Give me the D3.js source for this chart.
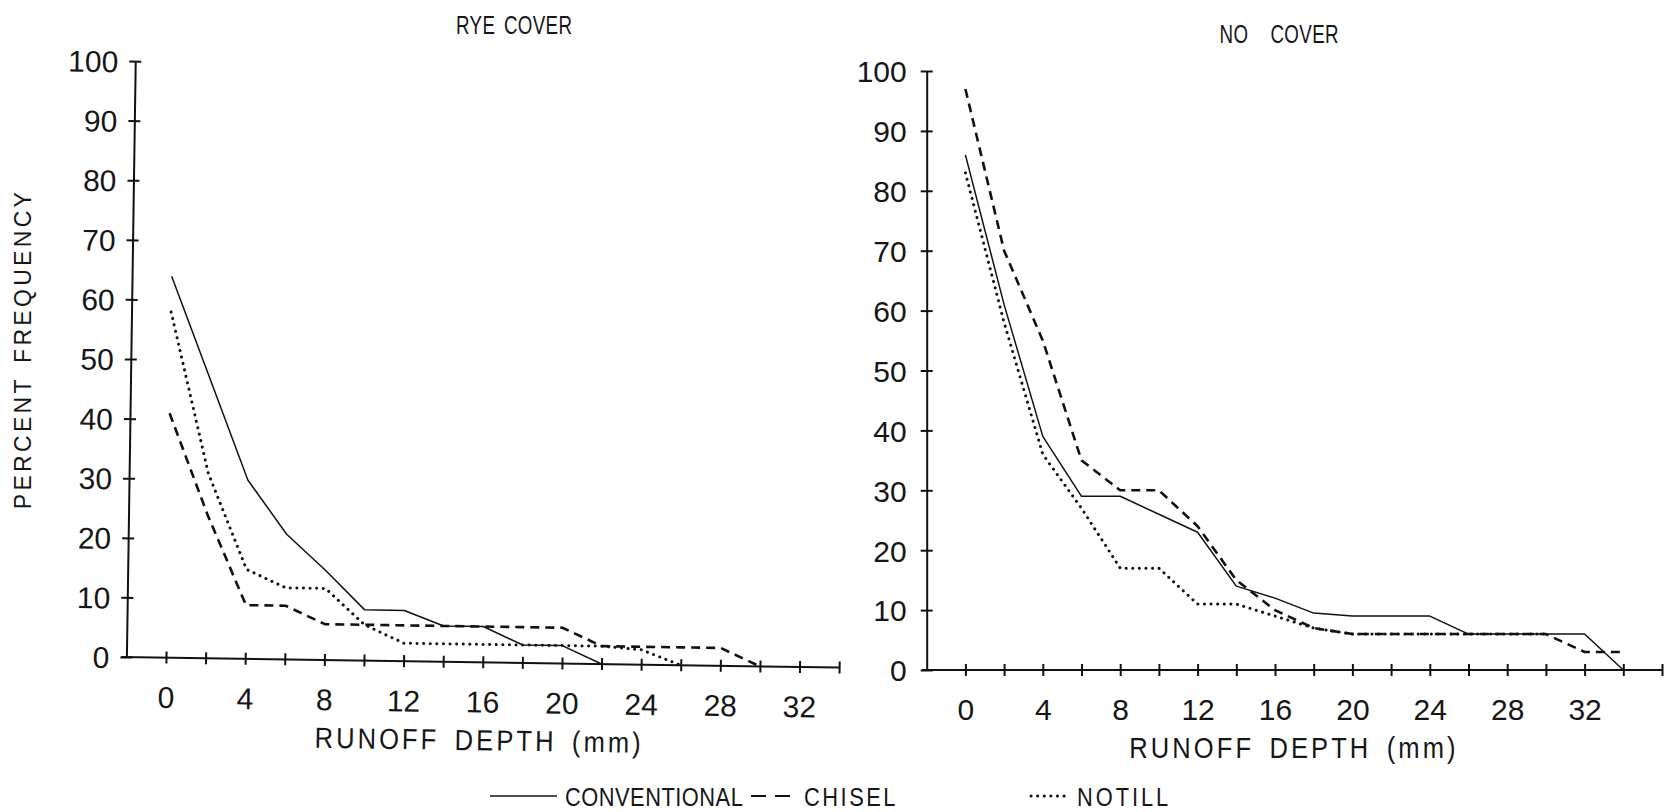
<!DOCTYPE html>
<html>
<head>
<meta charset="utf-8">
<script src="https://cdn.jsdelivr.net/npm/d3@7"></script>
<style>
  body { margin: 0; background: #fff; }
  text { font-family: "Liberation Sans", Arial, sans-serif; fill: #161616; }
</style>
</head>
<body>
<svg id="chart" width="1664" height="812"></svg>
<script>
// runoff depth classes (mm), one value every 2 mm
const depthMm = [0, 2, 4, 6, 8, 10, 12, 14, 16, 18, 20, 22, 24, 26, 28, 30, 32, 34, 36];
const depthLabels = [0, 4, 8, 12, 16, 20, 24, 28, 32];
const freqTicks = [0, 10, 20, 30, 40, 50, 60, 70, 80, 90, 100];

// percent frequency (starting at 0 mm)
const ryeConventional = [64, 47, 30, 21, 15, 8.5, 8.5, 6, 6, 3, 3, 0];
const ryeChisel = [41, 24, 9, 9, 6, 6, 6, 6, 6, 6, 6, 3, 3, 3, 3, 0];
const ryeNotill = [58, 31, 15, 12, 12, 6, 3, 3, 3, 3, 3, 3, 2.5, 0];

const noConventional = [86, 61, 39, 29, 29, 26, 23, 14, 12, 9.5, 9, 9, 9, 6, 6, 6, 6, 0];
const noChisel = [97, 70, 55, 35, 30, 30, 24, 15, 10, 7, 6, 6, 6, 6, 6, 6, 3, 3];
const noNotill = [83, 58, 36, 27, 17, 17, 11, 11, 9, 7, 6, 6, 6, 6, 6, 6];

const tillages = ['CONVENTIONAL', 'CHISEL', 'NOTILL'];

const lineStyle = {
  CONVENTIONAL: { width: 1.5, dash: null, cap: 'butt' },
  CHISEL: { width: 2.6, dash: '9,6', cap: 'butt' },
  NOTILL: { width: 3, dash: '0.1,6.5', cap: 'round' }
};

const svg = d3.select('#chart');

// plotter lettering is narrower than Arial: squeeze it sideways
function plotterText(parent, x, y, str, size, squeeze, ls, ws, anchor) {
  return parent.append('text')
    .attr('transform', 'translate(' + x + ',' + y + ') scale(' + squeeze + ',1)')
    .attr('text-anchor', anchor || 'middle')
    .attr('dx', anchor ? 0 : ls / 2)
    .attr('font-size', size)
    .attr('letter-spacing', ls)
    .attr('word-spacing', ws)
    .text(str);
}

function drawPanel(opts) {
  let outer = svg.append('g');
  let g = outer.append('g')
    .attr('transform', 'rotate(' + opts.tilt + ',' + opts.x0 + ',' + opts.y0 + ')');

  let x = d3.scaleLinear()
    .domain([-2, opts.xMax])
    .range([opts.x0, opts.x0 + (opts.xMax + 2) * opts.unit]);
  let y = d3.scaleLinear()
    .domain([0, 100])
    .range([opts.y0, opts.yTop]);

  // x axis with crossing ticks
  let xa = g.append('g')
    .attr('transform', 'translate(0,' + opts.y0 + ')')
    .call(d3.axisBottom(x)
      .tickValues(depthMm.filter(function (d) { return d <= opts.xMax; }))
      .tickSizeInner(6)
      .tickSizeOuter(0)
      .tickPadding(23)
      .tickFormat(function (d) { return depthLabels.indexOf(d) >= 0 ? d : ''; }));
  xa.select('.domain')
    .attr('d', 'M' + (opts.x0 - 5) + ',0H' + x.range()[1])
    .attr('stroke', '#111').attr('stroke-width', 2);
  xa.selectAll('.tick line').attr('y1', -6).attr('stroke', '#111').attr('stroke-width', 2);
  xa.selectAll('.tick text').attr('font-size', 30).attr('fill', '#161616');

  // y axis
  let ya = g.append('g')
    .attr('transform', 'translate(' + opts.x0 + ',0)')
    .call(d3.axisLeft(y)
      .tickValues(freqTicks)
      .tickSizeInner(6)
      .tickSizeOuter(0)
      .tickPadding(opts.yPad));
  ya.select('.domain').attr('stroke', '#111').attr('stroke-width', 2);
  ya.selectAll('.tick line').attr('x1', 6).attr('stroke', '#111').attr('stroke-width', 2);
  ya.selectAll('.tick text').attr('font-size', 30).attr('dy', '0.36em').attr('fill', '#161616');

  // series
  let line = d3.line()
    .x(function (d, i) { return x(depthMm[i]); })
    .y(function (d) { return y(d); });

  tillages.forEach(function (name, k) {
    let st = lineStyle[name];
    g.append('path')
      .datum(opts.series[k])
      .attr('fill', 'none')
      .attr('stroke', '#111')
      .attr('stroke-width', st.width)
      .attr('stroke-dasharray', st.dash)
      .attr('stroke-linecap', st.cap)
      .attr('stroke-linejoin', 'round')
      .attr('d', line);
  });

  plotterText(g, x(opts.xTitleAt), opts.y0 + 88, 'RUNOFF DEPTH (mm)', 29, 0.88, 3.5, 6);
  plotterText(outer, opts.titleX, opts.titleY, opts.title, 25, 0.75, 0.5, opts.titleGap);

  if (opts.yTitle) {
    outer.append('text')
      .attr('transform', 'translate(31,349) rotate(-90)')
      .attr('text-anchor', 'middle')
      .attr('font-size', 23)
      .attr('letter-spacing', 3.3)
      .attr('word-spacing', 4)
      .text(opts.yTitle);
  }
}

drawPanel({
  title: 'RYE COVER', titleX: 514, titleY: 34, titleGap: 4,
  yTitle: 'PERCENT FREQUENCY',
  x0: 126.4, y0: 657, yTop: 61, unit: 19.8, xMax: 34, tilt: 0.85, yPad: 11,
  xTitleAt: 15.8,
  series: [ryeConventional, ryeChisel, ryeNotill]
});

drawPanel({
  title: 'NO COVER', titleX: 1279, titleY: 43, titleGap: 22,
  x0: 926.7, y0: 670, yTop: 71, unit: 19.35, xMax: 36, tilt: 0, yPad: 14,
  xTitleAt: 16.9,
  series: [noConventional, noChisel, noNotill]
});

// legend along the bottom
const legendX = [490, 751, 1031];
const legendLen = [67, 40, 35];
const legendTextX = [565, 804, 1077];
const legendSpacing = [0.6, 3, 3.5];
const legendY = 796;

let lg = svg.append('g');
tillages.forEach(function (name, k) {
  let st = lineStyle[name];
  lg.append('line')
    .attr('x1', legendX[k]).attr('x2', legendX[k] + legendLen[k])
    .attr('y1', legendY).attr('y2', legendY)
    .attr('stroke', '#111')
    .attr('stroke-width', name === 'CHISEL' ? 2 : st.width)
    .attr('stroke-dasharray', name === 'CHISEL' ? '15,9' : st.dash)
    .attr('stroke-linecap', st.cap);
  plotterText(lg, legendTextX[k], legendY + 10, name, 26, 0.84, legendSpacing[k], 0, 'start');
});
</script>
</body>
</html>
